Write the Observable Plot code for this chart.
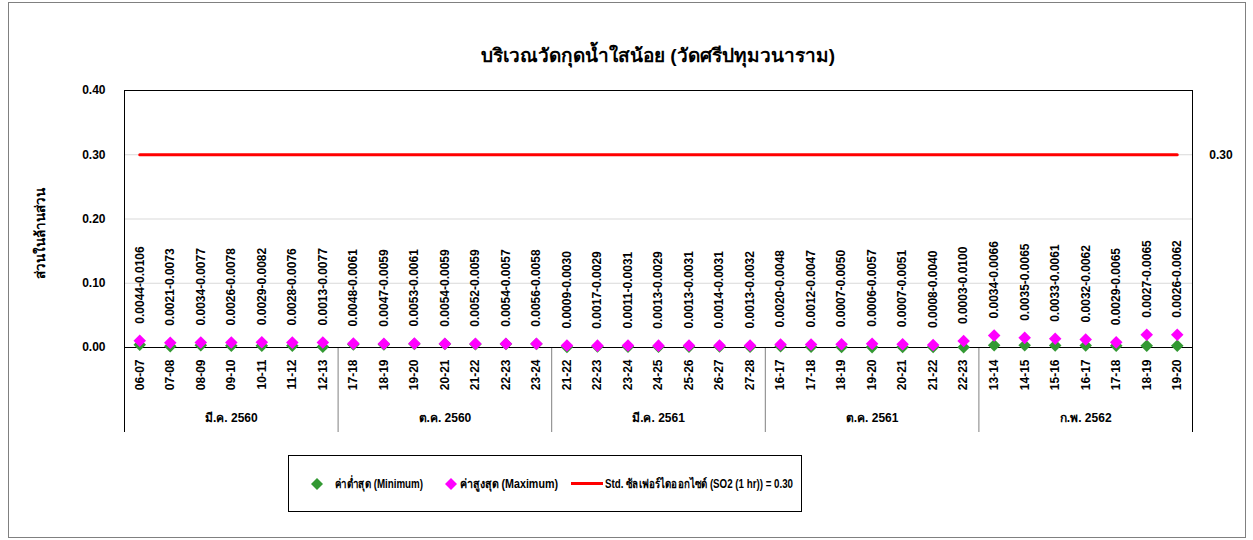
<!DOCTYPE html>
<html><head><meta charset="utf-8">
<script src="https://cdn.jsdelivr.net/npm/d3@7"></script>
<script src="https://cdn.jsdelivr.net/npm/@observablehq/plot@0.6"></script>
<style>
body{margin:0;background:#fff;}
#wrap{position:relative;width:1253px;height:540px;font-family:"Liberation Sans",Arial,sans-serif;font-weight:bold;color:#000;overflow:hidden;}
#border{position:absolute;left:8px;top:2px;width:1236px;height:534px;border:1px solid #808080;}
#title{position:absolute;left:124px;width:1068px;top:40px;text-align:center;font-size:19px;}
#ytitle{position:absolute;left:40px;top:233px;transform:translate(-50%,-50%) rotate(-90deg);font-size:13.5px;white-space:nowrap;}
#legend{position:absolute;left:288px;top:455px;width:512px;height:55px;border:1px solid #000;font-size:12.5px;}
#legend .it{position:absolute;top:0;height:55px;display:flex;align-items:center;white-space:nowrap;}
#legend .fit{display:inline-block;transform-origin:0 50%;}
#chart svg{position:absolute;left:0;top:0;}
</style></head>
<body>
<div id="wrap">
  <div id="border"></div>
  <div id="chart"></div>
  <div id="title">บริเวณวัดกุดน้ำใสน้อย (วัดศรีปทุมวนาราม)</div>
  <div id="ytitle">ส่วนในล้านส่วน</div>
  <div id="legend">
    <div class="it" style="left:21px"><svg width="14" height="14"><path d="M7,1L13,7L7,13L1,7Z" fill="#339933"/></svg></div>
    <div class="it" style="left:46px"><span class="fit" data-w="88">ค่าต่ำสุด (Minimum)</span></div>
    <div class="it" style="left:155px"><svg width="14" height="14"><path d="M7,1L13,7L7,13L1,7Z" fill="#ff00ff"/></svg></div>
    <div class="it" style="left:171px"><span class="fit" data-w="98">ค่าสูงสุด (Maximum)</span></div>
    <div class="it" style="left:282px"><svg width="32" height="4"><rect x="0" y="0" width="32" height="3" fill="#ff0000"/></svg></div>
    <div class="it" style="left:316px"><span class="fit" data-w="188">Std. ซัลเฟอร์ไดออกไซด์ (SO2 (1 hr)) = 0.30</span></div>
  </div>
</div>
<script>
const groups = ["มี.ค. 2560", "ต.ค. 2560", "มี.ค. 2561", "ต.ค. 2561", "ก.พ. 2562"];
const days = [
  ["06-07","07-08","08-09","09-10","10-11","11-12","12-13"],
  ["17-18","18-19","19-20","20-21","21-22","22-23","23-24"],
  ["21-22","22-23","23-24","24-25","25-26","26-27","27-28"],
  ["16-17","17-18","18-19","19-20","20-21","21-22","22-23"],
  ["13-14","14-15","15-16","16-17","17-18","18-19","19-20"]
];
const minVals = [
  0.0044,0.0021,0.0034,0.0026,0.0029,0.0028,0.0013,
  0.0048,0.0047,0.0053,0.0054,0.0052,0.0054,0.0056,
  0.0009,0.0017,0.0011,0.0013,0.0013,0.0014,0.0013,
  0.0020,0.0012,0.0007,0.0006,0.0007,0.0008,0.0003,
  0.0034,0.0035,0.0033,0.0032,0.0029,0.0027,0.0026
];
const maxVals = [
  0.0106,0.0073,0.0077,0.0078,0.0082,0.0076,0.0077,
  0.0061,0.0059,0.0061,0.0059,0.0059,0.0057,0.0058,
  0.0030,0.0029,0.0031,0.0029,0.0031,0.0031,0.0032,
  0.0048,0.0047,0.0050,0.0057,0.0051,0.0040,0.0100,
  0.0066,0.0065,0.0061,0.0062,0.0065,0.0065,0.0062
];
// plotted marker heights (Feb 2562 markers sit higher than their labels)
const maxMarker = [
  0.0106,0.0073,0.0077,0.0078,0.0082,0.0076,0.0077,
  0.0061,0.0059,0.0061,0.0059,0.0059,0.0057,0.0058,
  0.0030,0.0029,0.0031,0.0029,0.0031,0.0031,0.0032,
  0.0048,0.0047,0.0050,0.0057,0.0051,0.0040,0.0100,
  0.0187,0.0150,0.0135,0.0125,0.0080,0.0200,0.0200
];
const stdValue = 0.30;
const yTicks = [0, 0.1, 0.2, 0.3, 0.4];

const rows = [];
groups.forEach((g, gi) => days[gi].forEach((d, di) => {
  const i = rows.length;
  rows.push({key: g + "|" + d, group: g, day: d, di, min: minVals[i], max: maxVals[i], maxM: maxMarker[i], std: stdValue,
    label: minVals[i].toFixed(4) + "-" + maxVals[i].toFixed(4)});
}));
const keys = rows.map(r => r.key);

const W = 1253, H = 540, mL = 124, mR = 61, mT = 90, mB = 193;
const bw = (W - mL - mR) / keys.length;
const plotH = H - mT - mB;
const yLow = -0.4 * 85 / plotH;

const diamond = {draw(ctx, size) { const h = Math.sqrt(size / 2); ctx.moveTo(0, -h); ctx.lineTo(h, 0); ctx.lineTo(0, h); ctx.lineTo(-h, 0); ctx.closePath(); }};

const starts = rows.filter(r => r.di === 0);
const inner = starts.slice(1);
const mids = rows.filter(r => r.di === 3);
const last = rows[rows.length - 1];

const chart = Plot.plot({
  width: W, height: H,
  marginLeft: mL, marginRight: mR, marginTop: mT, marginBottom: mB,
  style: {fontFamily: '"Liberation Sans", Arial, sans-serif', fontSize: "12px", fontWeight: "bold", color: "#000", background: "transparent", overflow: "visible"},
  x: {type: "band", domain: keys, padding: 0, round: false, axis: null},
  y: {domain: [0, 0.4], axis: null},
  marks: [
    Plot.gridY(yTicks.slice(1, 4), {stroke: "#d9d9d9", strokeOpacity: 1}),
    Plot.axisY(yTicks, {tickSize: 0, tickPadding: 19, tickFormat: d => d.toFixed(2), label: null, fontSize: 12}),
    Plot.axisX(keys, {tickSize: 0, tickPadding: 12, tickRotate: -90, tickFormat: k => k.split("|")[1], label: null, fontSize: 12}),
    Plot.ruleX(inner, {x: "key", dx: -bw / 2, y1: 0, y2: yLow, stroke: "#808080"}),
    Plot.ruleX([rows[0]], {x: "key", dx: -bw / 2, y1: 0, y2: yLow, stroke: "#000"}),
    Plot.ruleX([last], {x: "key", dx: bw / 2, y1: 0, y2: yLow, stroke: "#000"}),
    Plot.text(mids, {x: "key", y: 0, dy: 71, text: "group", fontSize: 12}),
    Plot.frame({stroke: "#000"}),
    Plot.line(rows, {x: "key", y: "std", stroke: "#ff0000", strokeWidth: 3}),
    Plot.text([last], {x: "key", y: "std", dx: 32, text: d => d.std.toFixed(2), textAnchor: "start", fontSize: 12}),
    Plot.dot(rows, {x: "key", y: "min", symbol: diamond, r: 5, fill: "#339933", stroke: "none"}),
    Plot.dot(rows, {x: "key", y: "maxM", symbol: diamond, r: 5, fill: "#ff00ff", stroke: "none"}),
    Plot.text(rows, {x: "key", y: "maxM", dy: -17, rotate: -90, textAnchor: "start", text: "label", fontSize: 12})
  ]
});
document.getElementById("chart").appendChild(chart);

document.querySelectorAll("#legend .fit").forEach(el => {
  const w = el.getBoundingClientRect().width;
  const target = +el.dataset.w;
  if (w > 0) el.style.transform = `scaleX(${target / w})`;
});
</script>
</body></html>
